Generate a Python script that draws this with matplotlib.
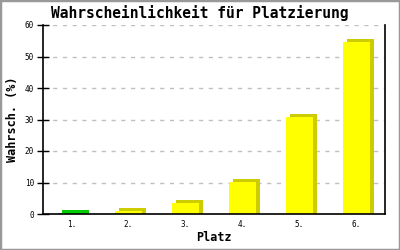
import matplotlib
matplotlib.use("Agg")
import matplotlib.pyplot as plt
from matplotlib import transforms
from matplotlib.patches import Rectangle

categories = ["1.", "2.", "3.", "4.", "5.", "6."]
values = [0.3, 1.1, 3.6, 10.2, 30.9, 54.6]
front_colors = ["#00cc00", "#ffff00", "#ffff00", "#ffff00", "#ffff00", "#ffff00"]
side_colors = ["#00cc00", "#cccc00", "#cccc00", "#cccc00", "#cccc00", "#cccc00"]
yticks = [0, 10, 20, 30, 40, 50, 60]

fig = plt.figure(figsize=(4, 2.5), dpi=100)
fig.patch.set_facecolor("white")
fig.patches.append(Rectangle((0, 0), 1, 1, transform=fig.transFigure,
                             fill=False, edgecolor="#999999", linewidth=2.5, zorder=10))

ax = fig.add_axes([0.1075, 0.144, 0.855, 0.756])
x = list(range(len(categories)))
mono = "DejaVu Sans Mono"

# depth (back) bars shifted up-right in pixels, extended below baseline and clipped
off = transforms.offset_copy(ax.transData, fig=fig, x=4, y=3, units="dots")
ext = 3
ax.bar(x, [v + ext for v in values], bottom=-ext, width=0.47, color=side_colors,
       transform=off, zorder=2, linewidth=0)
ax.bar(x, values, width=0.47, color=front_colors, zorder=3, linewidth=0)

ax.set_xlim(-0.5, 5.5)
ax.set_ylim(0, 60)
ax.set_yticks(yticks)
ax.set_xticks(x)
ax.set_xticklabels(categories, fontfamily=mono, fontsize=5.5)
ax.set_yticklabels([str(v) for v in yticks], fontfamily=mono, fontsize=5.5)
ax.tick_params(axis="y", direction="inout", length=9, width=1, pad=2)
ax.tick_params(axis="x", length=0, pad=4)

ax.yaxis.grid(True, color="#c0c0c0", linestyle=(0, (3, 4)), linewidth=1)
ax.set_axisbelow(True)
ax.spines["top"].set_visible(False)
for s in ["left", "right", "bottom"]:
    ax.spines[s].set_linewidth(1.2)
    ax.spines[s].set_color("black")
    ax.spines[s].set_zorder(5)

ax.set_xlabel("Platz", fontfamily=mono, fontweight="bold", fontsize=8.5, labelpad=2)
ax.set_ylabel("Wahrsch. (%)", fontfamily=mono, fontweight="bold", fontsize=8.5, labelpad=4)
fig.text(0.5, 0.947, "Wahrscheinlichkeit für Platzierung", ha="center", va="center",
         fontfamily=mono, fontweight="bold", fontsize=10.5)

fig.savefig("out.png", dpi=100)
